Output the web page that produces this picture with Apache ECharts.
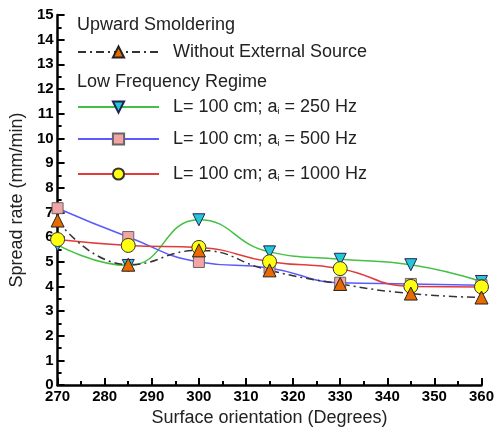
<!DOCTYPE html>
<html><head><meta charset="utf-8">
<script src="https://cdn.jsdelivr.net/npm/echarts@6/dist/echarts.min.js"></script>
<style>html,body{margin:0;padding:0;background:#fff}#c{width:497px;height:432px}</style>
</head><body><div id="c"></div>
<script>
const angles = [270, 285, 300, 315, 330, 345, 360];
const withoutSource = [6.67, 4.88, 5.46, 4.65, 4.1, 3.71, 3.55];
const hz250 = [5.68, 4.85, 6.7, 5.4, 5.1, 4.88, 4.2];
const hz500 = [7.17, 6.0, 4.99, 4.75, 4.15, 4.1, 4.05];
const hz1000 = [5.9, 5.66, 5.58, 5.0, 4.72, 4.0, 3.98];
const names = ['Without External Source', 'L= 100 cm; a_i = 250 Hz', 'L= 100 cm; a_i = 500 Hz', 'L= 100 cm; a_i = 1000 Hz'];
const legendLabels = {
  'L= 100 cm; a_i = 250 Hz': 'L= 100 cm; a{s|i} = 250 Hz',
  'L= 100 cm; a_i = 500 Hz': 'L= 100 cm; a{s|i} = 500 Hz',
  'L= 100 cm; a_i = 1000 Hz': 'L= 100 cm; a{s|i} = 1000 Hz'
};
const pairs = v => angles.map((a, i) => [a, v[i]]);
const chart = echarts.init(document.getElementById('c'));
const font = 'Liberation Sans, Arial, sans-serif';
function leg(name, top) {
  return {
    data: [name], left: 72, top: top, itemWidth: 81, itemHeight: 14, itemGap: 0,
    selectedMode: false,
    formatter: n => legendLabels[n] || n,
    textStyle: { fontFamily: font, fontSize: 18, color: '#222', padding: [0, 0, 0, 9],
      rich: { s: { fontFamily: font, fontSize: 9, color: '#222', verticalAlign: 'bottom', padding: [10, 0, 0, 0] } } }
  };
}
chart.setOption({
  animation: false,
  grid: { left: 56, right: 13, top: 15, bottom: 45 },
  legend: [leg(names[0], 38), leg(names[1], 93), leg(names[2], 125), leg(names[3], 160)],
  graphic: [
    { type: 'text', left: 77, top: 16, style: { text: 'Upward Smoldering', font: '18px ' + font, fill: '#222' } },
    { type: 'text', left: 77, top: 73, style: { text: 'Low Frequency Regime', font: '18px ' + font, fill: '#222' } }
  ],
  xAxis: {
    type: 'value', min: 270, max: 360, interval: 10,
    name: 'Surface orientation (Degrees)', nameLocation: 'middle', nameGap: 17,
    nameTextStyle: { fontFamily: font, fontSize: 18, color: '#222' },
    axisLine: { lineStyle: { color: '#000', width: 2.5 } },
    axisTick: { inside: true, length: 7, lineStyle: { color: '#000', width: 2 } },
    minorTick: { show: true, splitNumber: 2, length: 4, lineStyle: { color: '#000', width: 2 } },
    axisLabel: { fontFamily: font, fontSize: 15, fontWeight: 'bold', color: '#000', margin: 4 },
    splitLine: { show: false }
  },
  yAxis: {
    type: 'value', min: 0, max: 15, interval: 1,
    name: 'Spread rate (mm/min)', nameLocation: 'middle', nameGap: 25, nameRotate: 90,
    nameTextStyle: { fontFamily: font, fontSize: 18, color: '#222' },
    axisLine: { show: true, lineStyle: { color: '#000', width: 2.5 } },
    axisTick: { show: true, inside: true, length: 7, lineStyle: { color: '#000', width: 2 } },
    minorTick: { show: true, splitNumber: 2, length: 4, lineStyle: { color: '#000', width: 2 } },
    axisLabel: { fontFamily: font, fontSize: 15, fontWeight: 'bold', color: '#000', margin: 4 },
    splitLine: { show: false }
  },
  series: [
    { name: names[1], type: 'line', data: pairs(hz250), smooth: 0.5, symbol: 'triangle', symbolRotate: 180, symbolSize: 12,
      lineStyle: { color: '#44c044', width: 1.5 }, itemStyle: { color: '#22c8d8', borderColor: '#225', borderWidth: 1 } },
    { name: names[2], type: 'line', data: pairs(hz500), smooth: 0.5, symbol: 'rect', symbolSize: 11,
      lineStyle: { color: '#5a5aff', width: 1.5 }, itemStyle: { color: '#f4a4a4', borderColor: '#666', borderWidth: 1 } },
    { name: names[3], type: 'line', data: pairs(hz1000), smooth: 0.5, symbol: 'circle', symbolSize: 14,
      lineStyle: { color: '#e03c3c', width: 1.5 }, itemStyle: { color: '#ffff10', borderColor: '#333', borderWidth: 1 } },
    { name: names[0], type: 'line', data: pairs(withoutSource), smooth: 0.5, symbol: 'triangle', symbolSize: 13,
      lineStyle: { color: '#333', width: 1.5, type: [8, 4, 2, 4] }, itemStyle: { color: '#e86a00', borderColor: '#222', borderWidth: 1 } }
  ]
});
</script></body></html>
